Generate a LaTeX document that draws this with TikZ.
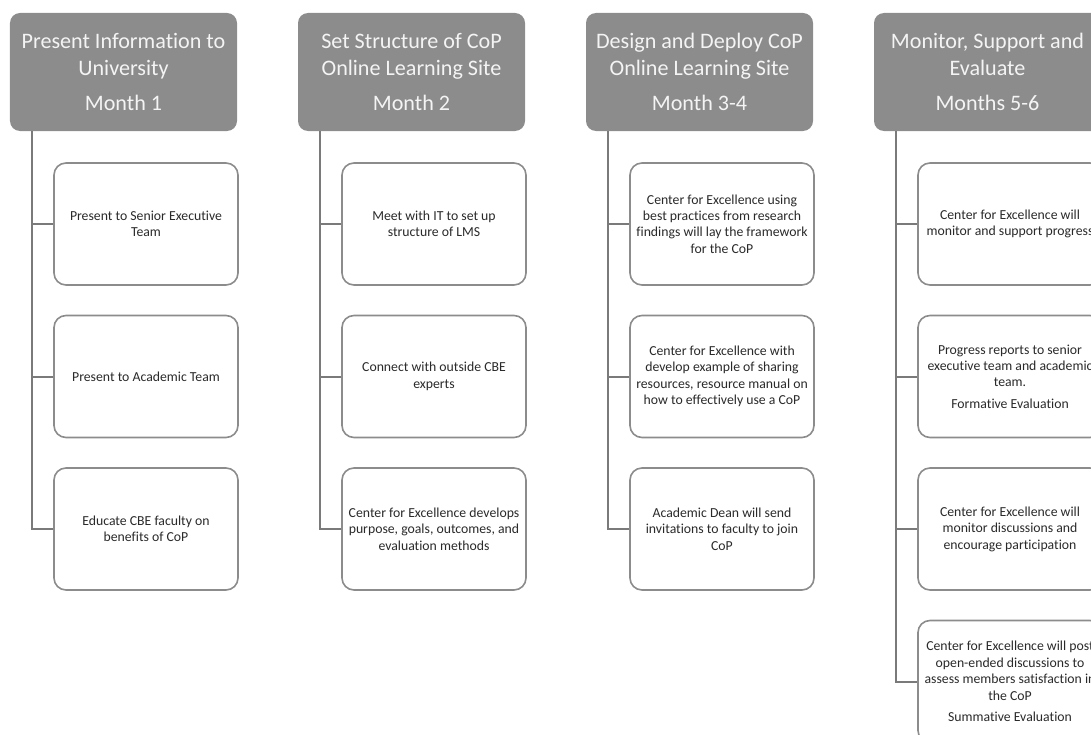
\documentclass[tikz,border=0pt]{standalone}
\usepackage{fontspec}
\setmainfont{Carlito}[Ligatures=NoCommon]
\usepackage{tikz}
\definecolor{PhaseGray}{HTML}{8C8C8C}
\definecolor{PhaseText}{HTML}{F4F4F4}
\definecolor{LinkGray}{HTML}{7A7A7A}
\definecolor{TaskText}{HTML}{2A2A2A}

\tikzset{
  phase/.style={rectangle,rounded corners=10bp,fill=PhaseGray,text=PhaseText,
    minimum width=227bp,minimum height=118bp,inner sep=0pt,align=center,
    font=\fontsize{22.2}{27}\selectfont},
  task/.style={rectangle,rounded corners=12bp,draw=PhaseGray,line width=1.6bp,fill=white,
    text=TaskText,minimum width=184bp,minimum height=122bp,inner sep=0pt,align=center,
    font=\fontsize{13.8}{16.5}\selectfont},
  link/.style={draw=LinkGray,line width=2bp}
}

\begin{document}
\begin{tikzpicture}[x=1bp,y=1bp]
\useasboundingbox (0,0) rectangle (1091,-735);
% phase headers
\node[phase] (h1) at (123.5,-72) {Present Information to\\University\\[8bp]Month 1};
\node[phase] (h2) at (411.5,-72) {Set Structure of CoP\\Online Learning Site\\[8bp]Month 2};
\node[phase] (h3) at (699.5,-72) {Design and Deploy CoP\\Online Learning Site\\[8bp]Month 3-4};
\node[phase] (h4) at (987.5,-72) {Monitor, Support and\\Evaluate\\[8bp]Months 5-6};
% month 1
\node[task] (t11) at (146,-224) {Present to Senior Executive\\Team};
\node[task] (t12) at (146,-376.5) {Present to Academic Team};
\node[task] (t13) at (146,-529) {Educate CBE faculty on\\benefits of CoP};
% month 2
\node[task] (t21) at (434,-224) {Meet with IT to set up\\structure of LMS};
\node[task] (t22) at (434,-376.5) {Connect with outside CBE\\experts};
\node[task] (t23) at (434,-529) {Center for Excellence develops\\purpose, goals, outcomes, and\\evaluation methods};
% month 3-4
\node[task] (t31) at (722,-224) {Center for Excellence using\\best practices from research\\findings will lay the framework\\for the CoP};
\node[task] (t32) at (722,-376.5) {Center for Excellence with\\develop example of sharing\\resources, resource manual on\\how to effectively use a CoP};
\node[task] (t33) at (722,-529) {Academic Dean will send\\invitations to faculty to join\\CoP};
% months 5-6
\node[task] (t41) at (1010,-224) {Center for Excellence will\\monitor and support progress};
\node[task] (t42) at (1010,-376.5) {Progress reports to senior\\executive team and academic\\team.\\[5bp]Formative Evaluation};
\node[task] (t43) at (1010,-529) {Center for Excellence will\\monitor discussions and\\encourage participation};
\node[task] (t44) at (1010,-681.5) {Center for Excellence will post\\open-ended discussions to\\assess members satisfaction in\\the CoP\\[5bp]Summative Evaluation};
% links
\foreach \c/\n in {1/3,2/3,3/3,4/4}
  \foreach \r in {1,...,\n}
    \draw[link] ([xshift=22bp]h\c.south west) |- (t\c\r.west);
\end{tikzpicture}
\end{document}
